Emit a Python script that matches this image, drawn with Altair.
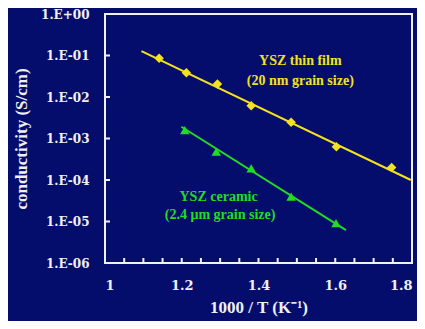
import altair as alt
import pandas as pd

# Data
film_x = [1.141, 1.212, 1.293, 1.381, 1.485, 1.603, 1.747]
film_y = [0.0857, 0.0385, 0.0206, 0.00617, 0.00245, 0.00063, 0.0002]
film_fit_x = [1.095, 1.797]
film_fit_y = [0.128, 0.0001]

cer_x = [1.208, 1.290, 1.381, 1.485, 1.602]
cer_y = [0.0016, 0.00048, 0.00019, 0.0000396, 0.0000091]
cer_fit_x = [1.199, 1.628]
cer_fit_y = [0.00192, 0.0000062]

x_tick_labels = [1.0, 1.2, 1.4, 1.6, 1.8]
x_minor = [1.05, 1.10, 1.15, 1.20, 1.25, 1.30, 1.35, 1.40, 1.45, 1.50, 1.55, 1.60, 1.65, 1.70, 1.75]
y_decades = [1e-6, 1e-5, 1e-4, 1e-3, 1e-2, 1e-1, 1]

ann_text = ["YSZ thin film", "(20 nm grain size)", "YSZ ceramic", "(2.4 \u03bcm grain size)"]
ann_x = [1.509, 1.509, 1.296, 1.300]
ann_y = [0.074, 0.024, 0.000039, 0.000014]
ann_series = ["film", "film", "ceramic", "ceramic"]

NAVY = "#050d6c"
YELLOW = "#f3e21c"
GREEN = "#22dc22"
WHITE = "#f0f0f5"
FONT = "Liberation Serif"
TICKFONT = "DejaVu Serif"

xs = alt.Scale(domain=[1, 1.8], nice=False, zero=False)
ys = alt.Scale(type="log", domain=[1e-6, 1], nice=False)

xaxis = alt.Axis(values=x_tick_labels, format="~g", title="1000 / T (K\u207b\u00b9)",
                 domain=False, ticks=False, grid=False, labelPadding=16,
                 labelColor=WHITE, labelFont=TICKFONT, labelFontWeight="bold", labelFontSize=13,
                 titleColor=WHITE, titleFont=FONT, titleFontWeight="bold", titleFontSize=17,
                 titlePadding=7)
yaxis = alt.Axis(values=y_decades,
                 labelExpr="datum.value >= 1 ? '1.E+00' : '1.E-0' + round(-log(datum.value)/LN10)",
                 title="conductivity (S/cm)",
                 domain=False, ticks=False, grid=False, labelPadding=16,
                 labelColor=WHITE, labelFont=TICKFONT, labelFontWeight="bold", labelFontSize=12,
                 titleColor=WHITE, titleFont=FONT, titleFontWeight="bold", titleFontSize=17,
                 titlePadding=10)

film_pts = pd.DataFrame({"x": film_x, "y": film_y})
film_fit = pd.DataFrame({"x": film_fit_x, "y": film_fit_y})
cer_pts = pd.DataFrame({"x": cer_x, "y": cer_y})
cer_fit = pd.DataFrame({"x": cer_fit_x, "y": cer_fit_y})
ann = pd.DataFrame({"t": ann_text, "x": ann_x, "y": ann_y, "s": ann_series})

base_axes = alt.Chart(film_fit).mark_line(color=YELLOW, strokeWidth=2).encode(
    x=alt.X("x:Q", scale=xs, axis=xaxis),
    y=alt.Y("y:Q", scale=ys, axis=yaxis),
)
film_points = alt.Chart(film_pts).mark_point(shape="diamond", filled=True, color=YELLOW, size=90, opacity=1).encode(
    x=alt.X("x:Q", scale=xs), y=alt.Y("y:Q", scale=ys))
cer_line = alt.Chart(cer_fit).mark_line(color=GREEN, strokeWidth=2).encode(
    x=alt.X("x:Q", scale=xs), y=alt.Y("y:Q", scale=ys))
cer_points = alt.Chart(cer_pts).mark_point(shape="triangle-up", filled=True, color=GREEN, size=90, opacity=1).encode(
    x=alt.X("x:Q", scale=xs), y=alt.Y("y:Q", scale=ys))

labels = alt.Chart(ann).mark_text(font=FONT, fontWeight="bold", fontSize=14, align="center", baseline="middle").encode(
    x=alt.X("x:Q", scale=xs), y=alt.Y("y:Q", scale=ys), text="t:N",
    color=alt.Color("s:N", scale=alt.Scale(domain=["film", "ceramic"], range=[YELLOW, GREEN]), legend=None))

xt = alt.Chart(pd.DataFrame({"x": x_minor})).mark_rule(color=WHITE, strokeWidth=2).encode(
    x=alt.X("x:Q", scale=xs), y=alt.value(249), y2=alt.value(244))
yt = alt.Chart(pd.DataFrame({"y": y_decades})).mark_rule(color=WHITE, strokeWidth=2).encode(
    y=alt.Y("y:Q", scale=ys), x=alt.value(0), x2=alt.value(5))

chart = alt.layer(base_axes, film_points, cer_line, cer_points, labels, xt, yt).properties(
    width=307, height=249,
    autosize=alt.AutoSizeParams(type="none"),
    padding={"left": 97, "top": 6, "right": 5, "bottom": 58},
    background=NAVY,
).configure_view(stroke=WHITE, strokeWidth=2)

chart.save("out.html", embed_options={"renderer": "svg", "actions": False})
